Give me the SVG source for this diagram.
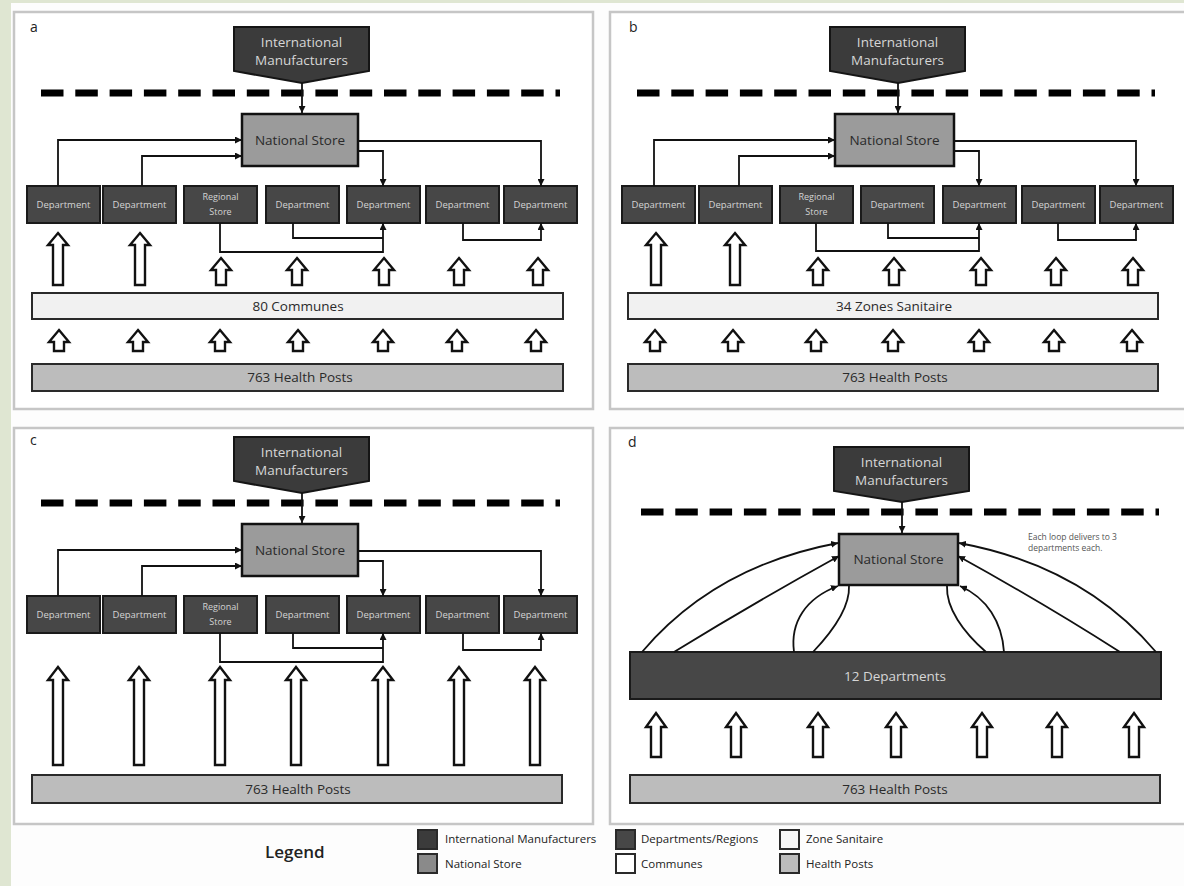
<svg xmlns="http://www.w3.org/2000/svg" width="1184" height="886" viewBox="0 0 1184 886">
<defs>
<marker id="ah" viewBox="0 0 10 10" refX="10" refY="5" markerWidth="7" markerHeight="7" markerUnits="userSpaceOnUse" orient="auto"><path d="M0,0 L10,5 L0,10 z" fill="#111"/></marker>
<style>
text{font-family:"Open Sans","Liberation Sans",sans-serif}
.panel{fill:#fff;stroke:#c6c6c6;stroke-width:2.5}
.lbl{font-size:14px;fill:#222}
.im{fill:#3b3b3b;stroke:#151515;stroke-width:2}
.imt{font-size:13.5px;fill:#d6d6d6;text-anchor:middle}
.ns{fill:#9b9b9b;stroke:#111;stroke-width:2.5}
.nst{font-size:13.5px;fill:#2a2a2a;text-anchor:middle}
.dep{fill:#474747;stroke:#1a1a1a;stroke-width:2}
.dept{font-size:9.5px;fill:#d4d4d4;text-anchor:middle}
.rst{font-size:9px;fill:#d4d4d4;text-anchor:middle}
.com{fill:#f1f1f1;stroke:#2a2a2a;stroke-width:2}
.hp{fill:#bcbcbc;stroke:#2a2a2a;stroke-width:2}
.bart{font-size:13.5px;fill:#2a2a2a;text-anchor:middle}
.dash{stroke:#000;stroke-width:7;stroke-dasharray:22.5 11.8;fill:none}
.con{fill:none;stroke:#111;stroke-width:1.8}
.blk{fill:#fff;stroke:#111;stroke-width:2.4;stroke-linejoin:miter}
.legt{font-size:11.5px;fill:#222}
.sq{stroke:#2a2a2a;stroke-width:2}
</style>
</defs>
<rect x="0" y="0" width="1184" height="886" fill="#fdfdfd"/>
<rect x="0" y="0" width="1184" height="3" fill="#dfe6d2"/>
<rect x="0" y="0" width="11" height="886" fill="#dfe6d2"/>

<!-- Panel a -->
<g id="panel-a">
<rect class="panel" x="14" y="12" width="579" height="397"/>
<text class="lbl" x="30" y="32">a</text>
<line class="dash" x1="41" y1="93" x2="560" y2="93"/>
<g id="a-im"><path class="im" d="M234 27 H369 V71 L302 83 L234 71 Z"/><text class="imt" x="301.5" y="47">International</text><text class="imt" x="301.5" y="65">Manufacturers</text></g>
<g id="a-ns"><rect class="ns" x="242" y="114" width="116" height="52"/><text class="nst" x="300" y="145">National Store</text></g>
<g id="a-d1"><rect class="dep" x="27" y="186" width="73" height="37"/><text class="dept" x="63.5" y="208">Department</text></g>
<g id="a-d2"><rect class="dep" x="103" y="186" width="73" height="37"/><text class="dept" x="139.5" y="208">Department</text></g>
<g id="a-rs"><rect class="dep" x="184" y="186" width="73" height="37"/><text class="rst" x="220.5" y="200">Regional</text><text class="rst" x="220.5" y="215">Store</text></g>
<g id="a-d4"><rect class="dep" x="266" y="186" width="73" height="37"/><text class="dept" x="302.5" y="208">Department</text></g>
<g id="a-d5"><rect class="dep" x="347" y="186" width="73" height="37"/><text class="dept" x="383.5" y="208">Department</text></g>
<g id="a-d6"><rect class="dep" x="426" y="186" width="73" height="37"/><text class="dept" x="462.5" y="208">Department</text></g>
<g id="a-d7"><rect class="dep" x="504" y="186" width="73" height="37"/><text class="dept" x="540.5" y="208">Department</text></g>
<g id="a-communes"><rect class="com" x="32" y="293" width="531" height="26"/><text class="bart" x="298" y="311">80 Communes</text></g>
<g id="a-hp"><rect class="hp" x="32" y="364" width="531" height="27"/><text class="bart" x="300" y="382">763 Health Posts</text></g>
<g id="a-connectors">
<path class="con" d="M302 83 V113" marker-end="url(#ah)"/>
<path class="con" d="M58 186 V140 H242" marker-end="url(#ah)"/>
<path class="con" d="M142 186 V156 H242" marker-end="url(#ah)"/>
<path class="con" d="M358 141 H541 V186" marker-end="url(#ah)"/>
<path class="con" d="M358 151 H383 V186" marker-end="url(#ah)"/>
<path class="con" d="M220 223 V252 H383 V223" marker-end="url(#ah)"/>
<path class="con" d="M293 223 V238 H383"/>
<path class="con" d="M463 223 V240 H541 V223" marker-end="url(#ah)"/>
<path class="blk" d="M58 233 L68 245 L63 245 L63 285 L53 285 L53 245 L48 245 Z"/>
<path class="blk" d="M140 233 L150 245 L145 245 L145 285 L135 285 L135 245 L130 245 Z"/>
<path class="blk" d="M221 258 L231 270 L226 270 L226 285 L216 285 L216 270 L211 270 Z"/>
<path class="blk" d="M297 258 L307 270 L302 270 L302 285 L292 285 L292 270 L287 270 Z"/>
<path class="blk" d="M384 258 L394 270 L389 270 L389 285 L379 285 L379 270 L374 270 Z"/>
<path class="blk" d="M459 258 L469 270 L464 270 L464 285 L454 285 L454 270 L449 270 Z"/>
<path class="blk" d="M538 258 L548 270 L543 270 L543 285 L533 285 L533 270 L528 270 Z"/>
<path class="blk" d="M59 330 L69 342 L64 342 L64 351 L54 351 L54 342 L49 342 Z"/>
<path class="blk" d="M138 330 L148 342 L143 342 L143 351 L133 351 L133 342 L128 342 Z"/>
<path class="blk" d="M220 330 L230 342 L225 342 L225 351 L215 351 L215 342 L210 342 Z"/>
<path class="blk" d="M298 330 L308 342 L303 342 L303 351 L293 351 L293 342 L288 342 Z"/>
<path class="blk" d="M383 330 L393 342 L388 342 L388 351 L378 351 L378 342 L373 342 Z"/>
<path class="blk" d="M457 330 L467 342 L462 342 L462 351 L452 351 L452 342 L447 342 Z"/>
<path class="blk" d="M536 330 L546 342 L541 342 L541 351 L531 351 L531 342 L526 342 Z"/>
</g>
</g>

<!-- Panel b -->
<g id="panel-b">
<rect class="panel" x="610" y="12" width="580" height="397"/>
<text class="lbl" x="629" y="32">b</text>
<line class="dash" x1="637" y1="93" x2="1155" y2="93"/>
<g id="b-im"><path class="im" d="M830 27 H965 V71 L898 83 L830 71 Z"/><text class="imt" x="897.5" y="47">International</text><text class="imt" x="897.5" y="65">Manufacturers</text></g>
<g id="b-ns"><rect class="ns" x="835" y="114" width="119" height="52"/><text class="nst" x="894.5" y="145">National Store</text></g>
<g id="b-d1"><rect class="dep" x="622" y="186" width="73" height="37"/><text class="dept" x="658.5" y="208">Department</text></g>
<g id="b-d2"><rect class="dep" x="699" y="186" width="73" height="37"/><text class="dept" x="735.5" y="208">Department</text></g>
<g id="b-rs"><rect class="dep" x="780" y="186" width="73" height="37"/><text class="rst" x="816.5" y="200">Regional</text><text class="rst" x="816.5" y="215">Store</text></g>
<g id="b-d4"><rect class="dep" x="861" y="186" width="73" height="37"/><text class="dept" x="897.5" y="208">Department</text></g>
<g id="b-d5"><rect class="dep" x="943" y="186" width="73" height="37"/><text class="dept" x="979.5" y="208">Department</text></g>
<g id="b-d6"><rect class="dep" x="1022" y="186" width="73" height="37"/><text class="dept" x="1058.5" y="208">Department</text></g>
<g id="b-d7"><rect class="dep" x="1100" y="186" width="73" height="37"/><text class="dept" x="1136.5" y="208">Department</text></g>
<g id="b-zones"><rect class="com" x="628" y="293" width="530" height="26"/><text class="bart" x="894" y="311">34 Zones Sanitaire</text></g>
<g id="b-hp"><rect class="hp" x="628" y="364" width="530" height="27"/><text class="bart" x="895" y="382">763 Health Posts</text></g>
<g id="b-connectors">
<path class="con" d="M898 83 V113" marker-end="url(#ah)"/>
<path class="con" d="M654 186 V140 H835" marker-end="url(#ah)"/>
<path class="con" d="M739 186 V156 H835" marker-end="url(#ah)"/>
<path class="con" d="M954 141 H1136 V186" marker-end="url(#ah)"/>
<path class="con" d="M954 151 H979 V186" marker-end="url(#ah)"/>
<path class="con" d="M816 223 V251 H979 V223" marker-end="url(#ah)"/>
<path class="con" d="M888 223 V238 H979"/>
<path class="con" d="M1058 223 V240 H1136 V223" marker-end="url(#ah)"/>
<path class="blk" d="M656 233 L666 245 L661 245 L661 285 L651 285 L651 245 L646 245 Z"/>
<path class="blk" d="M735 233 L745 245 L740 245 L740 285 L730 285 L730 245 L725 245 Z"/>
<path class="blk" d="M818 258 L828 270 L823 270 L823 285 L813 285 L813 270 L808 270 Z"/>
<path class="blk" d="M894 258 L904 270 L899 270 L899 285 L889 285 L889 270 L884 270 Z"/>
<path class="blk" d="M981 258 L991 270 L986 270 L986 285 L976 285 L976 270 L971 270 Z"/>
<path class="blk" d="M1056 258 L1066 270 L1061 270 L1061 285 L1051 285 L1051 270 L1046 270 Z"/>
<path class="blk" d="M1133 258 L1143 270 L1138 270 L1138 285 L1128 285 L1128 270 L1123 270 Z"/>
<path class="blk" d="M655 330 L665 342 L660 342 L660 351 L650 351 L650 342 L645 342 Z"/>
<path class="blk" d="M733 330 L743 342 L738 342 L738 351 L728 351 L728 342 L723 342 Z"/>
<path class="blk" d="M816 330 L826 342 L821 342 L821 351 L811 351 L811 342 L806 342 Z"/>
<path class="blk" d="M893 330 L903 342 L898 342 L898 351 L888 351 L888 342 L883 342 Z"/>
<path class="blk" d="M979 330 L989 342 L984 342 L984 351 L974 351 L974 342 L969 342 Z"/>
<path class="blk" d="M1054 330 L1064 342 L1059 342 L1059 351 L1049 351 L1049 342 L1044 342 Z"/>
<path class="blk" d="M1132 330 L1142 342 L1137 342 L1137 351 L1127 351 L1127 342 L1122 342 Z"/>
</g>
</g>

<!-- Panel c -->
<g id="panel-c" transform="translate(0,410)">
<rect class="panel" x="14" y="18" width="579" height="396"/>
<text class="lbl" x="30" y="35">c</text>
<line class="dash" x1="41" y1="93" x2="560" y2="93"/>
<g id="c-im"><path class="im" d="M234 27 H369 V71 L302 83 L234 71 Z"/><text class="imt" x="301.5" y="47">International</text><text class="imt" x="301.5" y="65">Manufacturers</text></g>
<g id="c-ns"><rect class="ns" x="242" y="114" width="116" height="52"/><text class="nst" x="300" y="145">National Store</text></g>
<g id="c-d1"><rect class="dep" x="27" y="186" width="73" height="37"/><text class="dept" x="63.5" y="208">Department</text></g>
<g id="c-d2"><rect class="dep" x="103" y="186" width="73" height="37"/><text class="dept" x="139.5" y="208">Department</text></g>
<g id="c-rs"><rect class="dep" x="184" y="186" width="73" height="37"/><text class="rst" x="220.5" y="200">Regional</text><text class="rst" x="220.5" y="215">Store</text></g>
<g id="c-d4"><rect class="dep" x="266" y="186" width="73" height="37"/><text class="dept" x="302.5" y="208">Department</text></g>
<g id="c-d5"><rect class="dep" x="347" y="186" width="73" height="37"/><text class="dept" x="383.5" y="208">Department</text></g>
<g id="c-d6"><rect class="dep" x="426" y="186" width="73" height="37"/><text class="dept" x="462.5" y="208">Department</text></g>
<g id="c-d7"><rect class="dep" x="504" y="186" width="73" height="37"/><text class="dept" x="540.5" y="208">Department</text></g>
<g id="c-hp"><rect class="hp" x="32" y="365" width="530" height="28"/><text class="bart" x="298" y="384">763 Health Posts</text></g>
<g id="c-connectors">
<path class="con" d="M302 83 V113" marker-end="url(#ah)"/>
<path class="con" d="M58 186 V140 H242" marker-end="url(#ah)"/>
<path class="con" d="M142 186 V156 H242" marker-end="url(#ah)"/>
<path class="con" d="M358 141 H541 V186" marker-end="url(#ah)"/>
<path class="con" d="M358 151 H383 V186" marker-end="url(#ah)"/>
<path class="con" d="M220 223 V252 H383 V223" marker-end="url(#ah)"/>
<path class="con" d="M293 223 V238 H383"/>
<path class="con" d="M463 223 V240 H541 V223" marker-end="url(#ah)"/>
<path class="blk" d="M58 257 L68 270 L63 270 L63 355 L53 355 L53 270 L48 270 Z"/>
<path class="blk" d="M139 257 L149 270 L144 270 L144 355 L134 355 L134 270 L129 270 Z"/>
<path class="blk" d="M220 257 L230 270 L225 270 L225 355 L215 355 L215 270 L210 270 Z"/>
<path class="blk" d="M296 257 L306 270 L301 270 L301 355 L291 355 L291 270 L286 270 Z"/>
<path class="blk" d="M383 257 L393 270 L388 270 L388 355 L378 355 L378 270 L373 270 Z"/>
<path class="blk" d="M459 257 L469 270 L464 270 L464 355 L454 355 L454 270 L449 270 Z"/>
<path class="blk" d="M535 257 L545 270 L540 270 L540 355 L530 355 L530 270 L525 270 Z"/>
</g>
</g>

<!-- Panel d -->
<g id="panel-d">
<rect class="panel" x="610" y="428" width="580" height="396"/>
<text class="lbl" x="628" y="447">d</text>
<line class="dash" x1="641" y1="512" x2="1159" y2="512"/>
<g id="d-im"><path class="im" d="M834 447 H969 V491 L902 502 L834 491 Z"/><text class="imt" x="901.5" y="467">International</text><text class="imt" x="901.5" y="485">Manufacturers</text></g>
<g id="d-ns"><rect class="ns" x="839" y="534" width="119" height="51"/><text class="nst" x="898.5" y="564">National Store</text></g>
<g id="d-note"><text style="font-size:8.5px;fill:#555" x="1028" y="540">Each loop delivers to 3</text><text style="font-size:8.5px;fill:#555" x="1028" y="551">departments each.</text></g>
<g id="d-depts"><rect class="dep" x="630" y="652" width="531" height="47"/><text style="font-size:13.5px;fill:#d6d6d6;text-anchor:middle" x="895" y="681">12 Departments</text></g>
<g id="d-hp"><rect class="hp" x="630" y="775" width="530" height="28"/><text class="bart" x="895" y="794">763 Health Posts</text></g>
<g id="d-connectors">
<path class="con" d="M902 502 V533" marker-end="url(#ah)"/>
<path class="con" d="M642 652 Q715 566 838 543" marker-end="url(#ah)"/>
<path class="con" d="M674 652 Q752 604 839 556" marker-end="url(#ah)"/>
<path class="con" d="M794 652 C790 622 806 598 838 586" marker-end="url(#ah)"/>
<path class="con" d="M813 652 C832 632 850 608 849 586"/>
<path class="con" d="M1156 652 Q1083 566 959 543" marker-end="url(#ah)"/>
<path class="con" d="M1120 652 Q1045 604 958 556" marker-end="url(#ah)"/>
<path class="con" d="M1004 652 C1002 622 987 598 960 586" marker-end="url(#ah)"/>
<path class="con" d="M986 652 C963 632 946 608 947 586"/>
<path class="blk" d="M656 713 L666 727 L661 727 L661 757 L651 757 L651 727 L646 727 Z"/>
<path class="blk" d="M736 713 L746 727 L741 727 L741 757 L731 757 L731 727 L726 727 Z"/>
<path class="blk" d="M818 713 L828 727 L823 727 L823 757 L813 757 L813 727 L808 727 Z"/>
<path class="blk" d="M896 713 L906 727 L901 727 L901 757 L891 757 L891 727 L886 727 Z"/>
<path class="blk" d="M982 713 L992 727 L987 727 L987 757 L977 757 L977 727 L972 727 Z"/>
<path class="blk" d="M1057 713 L1067 727 L1062 727 L1062 757 L1052 757 L1052 727 L1047 727 Z"/>
<path class="blk" d="M1134 713 L1144 727 L1139 727 L1139 757 L1129 757 L1129 727 L1124 727 Z"/>
</g>
</g>

<!-- Legend -->
<g id="legend">
<text x="265" y="858" style="font-size:17px;font-weight:600;fill:#222">Legend</text>
<g id="leg-im"><rect class="sq" x="418" y="830" width="19" height="19" fill="#3b3b3b"/><text class="legt" x="445" y="843">International Manufacturers</text></g>
<g id="leg-ns"><rect class="sq" x="418" y="854" width="19" height="19" fill="#8a8a8a"/><text class="legt" x="445" y="868">National Store</text></g>
<g id="leg-dep"><rect class="sq" x="616" y="830" width="19" height="19" fill="#474747"/><text class="legt" x="641" y="843">Departments/Regions</text></g>
<g id="leg-com"><rect class="sq" x="616" y="854" width="19" height="19" fill="#ffffff"/><text class="legt" x="641" y="868">Communes</text></g>
<g id="leg-zs"><rect class="sq" x="780" y="830" width="19" height="19" fill="#f6f6f6"/><text class="legt" x="806" y="843">Zone Sanitaire</text></g>
<g id="leg-hp"><rect class="sq" x="780" y="854" width="19" height="19" fill="#bcbcbc"/><text class="legt" x="806" y="868">Health Posts</text></g>
</g>
</svg>
